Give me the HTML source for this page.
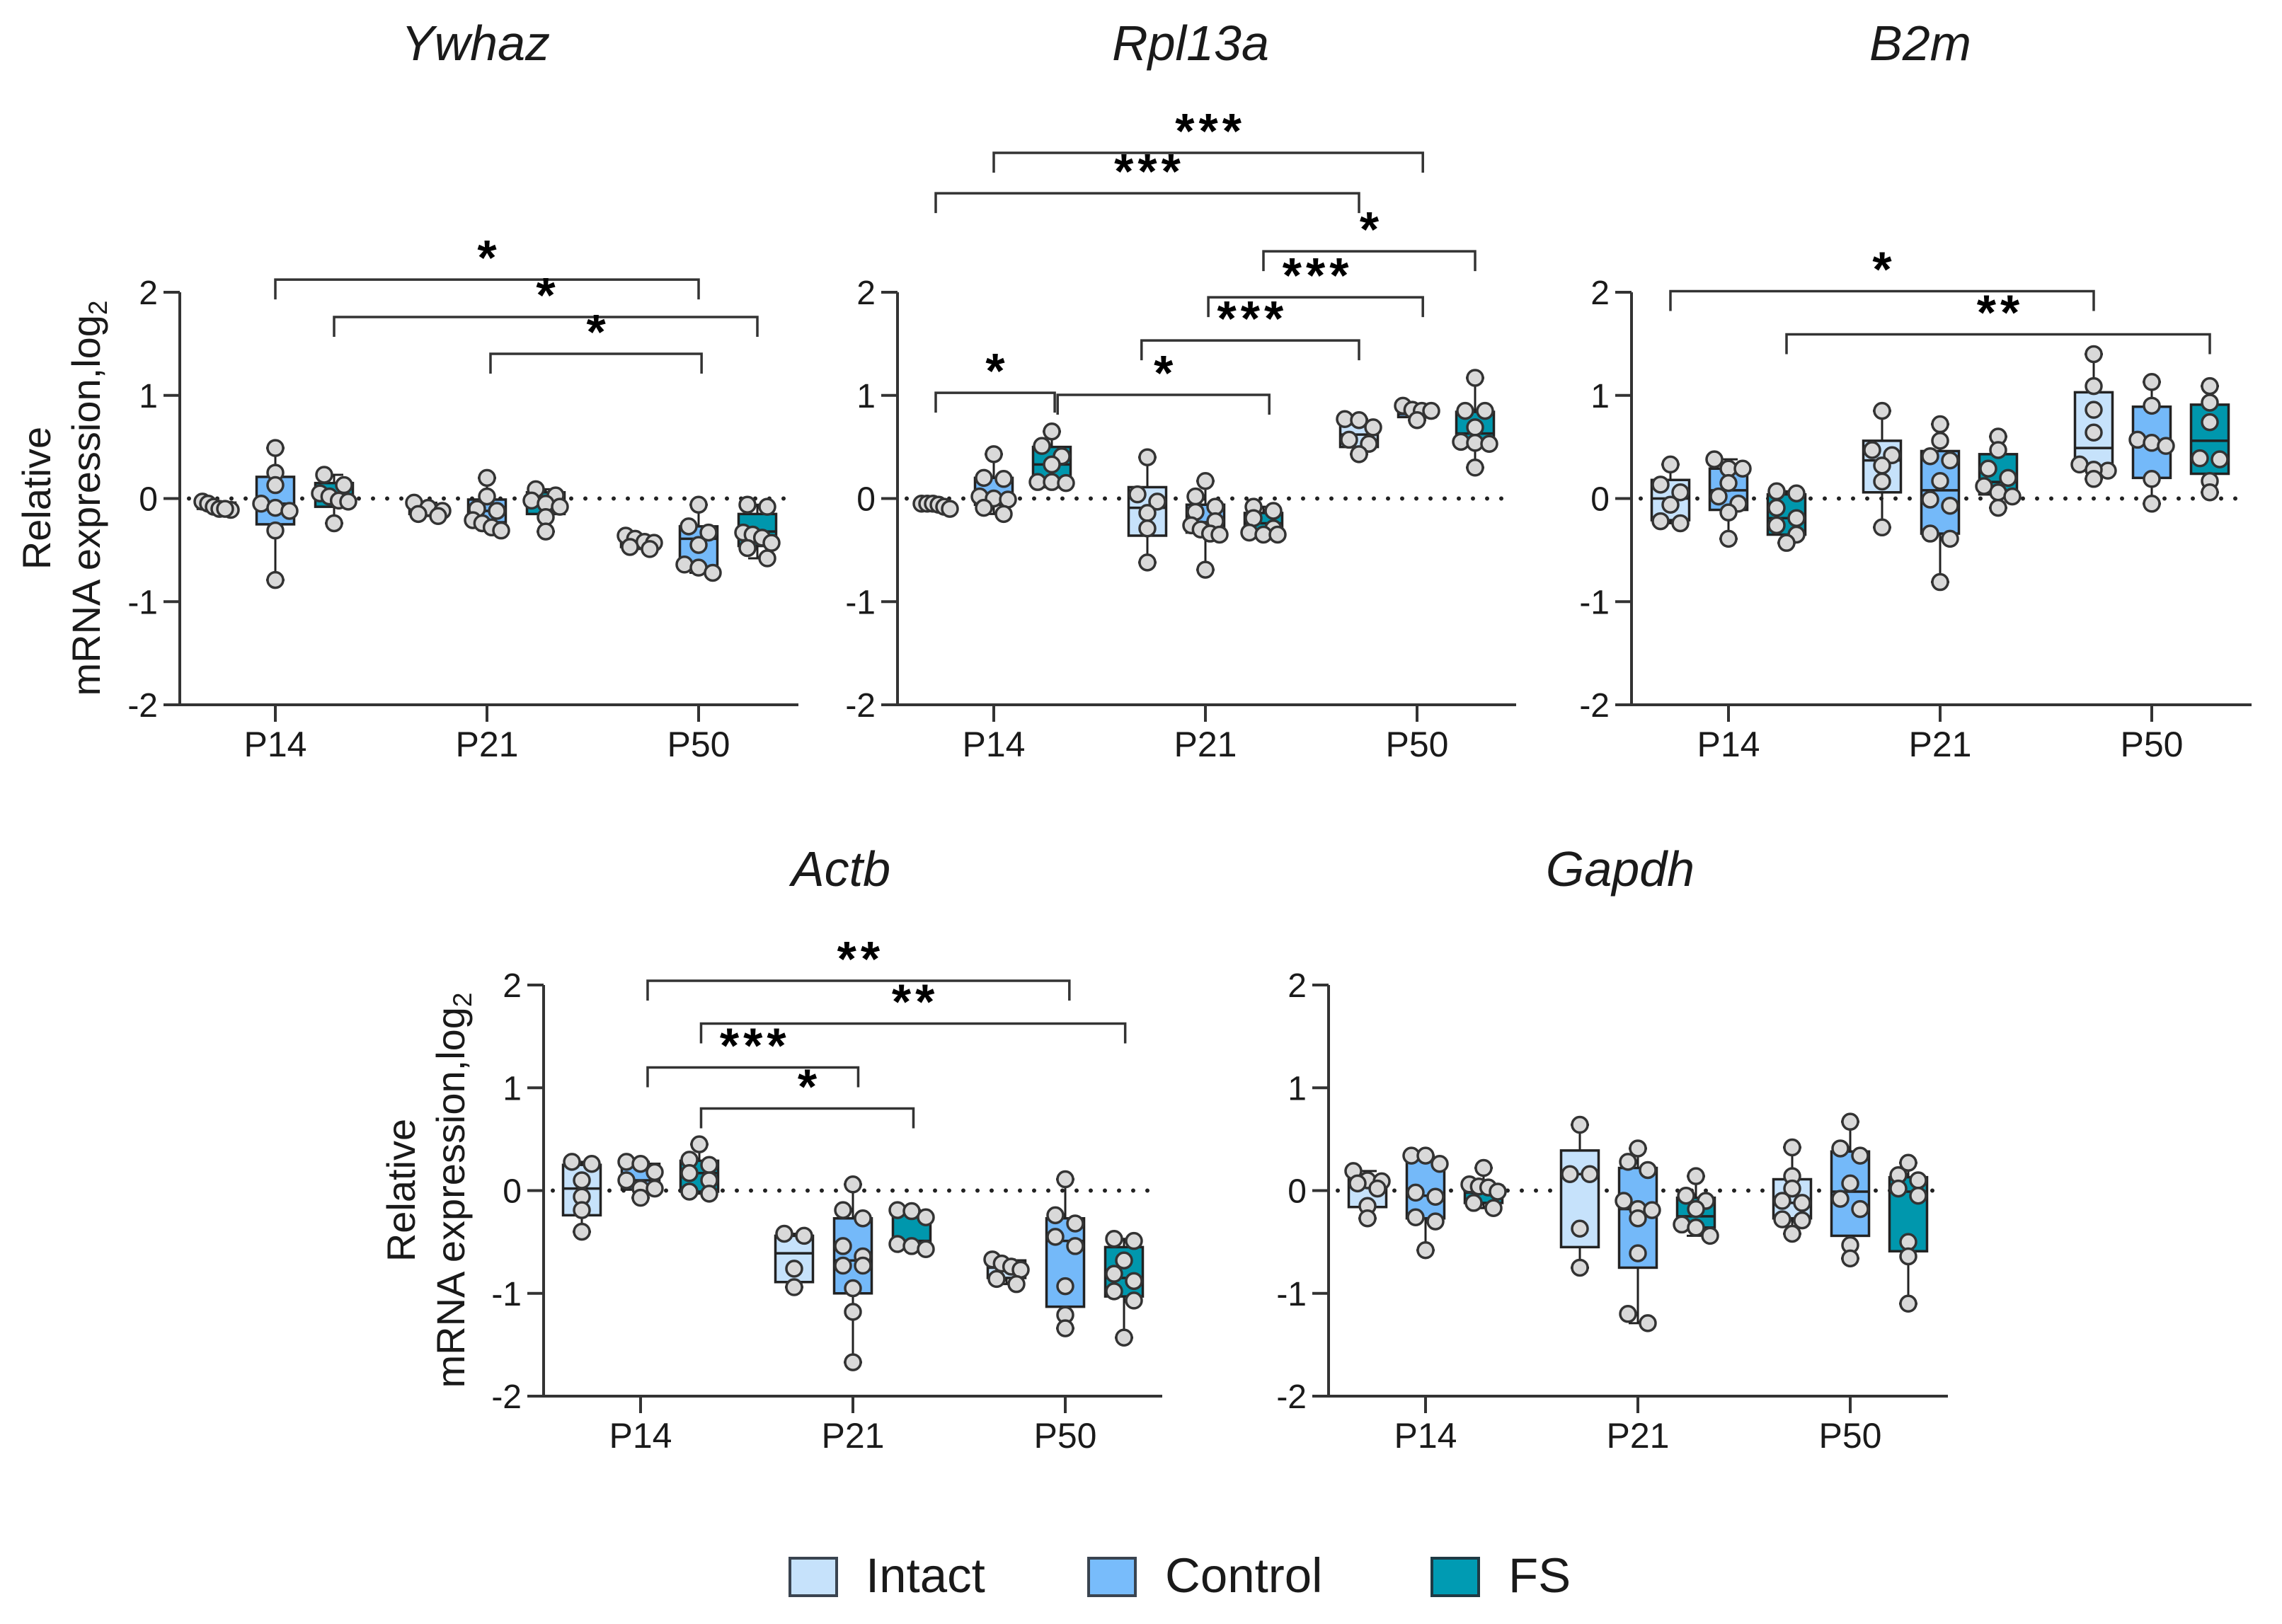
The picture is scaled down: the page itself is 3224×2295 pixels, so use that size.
<!DOCTYPE html>
<html lang="en">
<head>
<meta charset="utf-8">
<title>Relative mRNA expression of reference genes</title>
<style>
html,body{margin:0;padding:0;background:#fff;}
svg{display:block;}
text{font-family:"Liberation Sans",sans-serif;fill:#1a1a1a;}
.title{font-size:70px;font-style:italic;text-anchor:middle;}
.ylab{font-size:56px;text-anchor:middle;}
.leg{font-size:69px;}
</style>
</head>
<body>
<svg id="fig" width="3224" height="2295" viewBox="0 0 3224 2295" xmlns="http://www.w3.org/2000/svg">
  <rect x="0" y="0" width="3224" height="2295" fill="#fff"/>
  <text class="title" x="672" y="85">Ywhaz</text>
  <text class="title" x="1682" y="85">Rpl13a</text>
  <text class="title" x="2713" y="85">B2m</text>
  <text class="title" x="1188" y="1252">Actb</text>
  <text class="title" x="2289" y="1252">Gapdh</text>

  <text class="ylab" transform="translate(71,704) rotate(-90)">Relative</text>
  <text class="ylab" transform="translate(141,704) rotate(-90)">mRNA expression,log<tspan dy="10" font-size="37">2</tspan></text>
  <text class="ylab" transform="translate(586,1682) rotate(-90)">Relative</text>
  <text class="ylab" transform="translate(656,1682) rotate(-90)">mRNA expression,log<tspan dy="10" font-size="37">2</tspan></text>

  <g>
    <rect x="1116" y="2202" width="66" height="53" fill="#c6e2fb" stroke="#3a4450" stroke-width="4"/>
    <text class="leg" x="1223" y="2250">Intact</text>
    <rect x="1538" y="2202" width="66" height="53" fill="#78bcfb" stroke="#3a4450" stroke-width="4"/>
    <text class="leg" x="1646" y="2250">Control</text>
    <rect x="2023" y="2202" width="66" height="53" fill="#009bb3" stroke="#1f3a44" stroke-width="4"/>
    <text class="leg" x="2131" y="2250">FS</text>
  </g>
</svg>
<script>
// Shared axis labels
const yTickValues = [-2, -1, 0, 1, 2];
const ageLabels = ['P14', 'P21', 'P50'];
const groupNames = ['Intact', 'Control', 'FS'];
const groupFills = ['#c6e2fb', '#74b9f9', '#0097ad'];

// Each array below runs P14 Intact/Control/FS, P21 Intact/Control/FS, P50 Intact/Control/FS
const ywhazValues = [
  [-0.03,-0.05,-0.08,-0.1,-0.11,-0.1],
  [0.49,0.25,0.13,-0.05,-0.09,-0.12,-0.31,-0.79],
  [0.23,0.13,0.05,0.02,-0.02,-0.03,-0.24],
  [-0.04,-0.09,-0.12,-0.15,-0.17],
  [0.2,0.02,-0.1,-0.12,-0.21,-0.24,-0.28,-0.31],
  [0.09,0.03,-0.02,-0.05,-0.08,-0.18,-0.32],
  [-0.36,-0.39,-0.42,-0.43,-0.47,-0.49],
  [-0.06,-0.27,-0.33,-0.45,-0.64,-0.67,-0.72],
  [-0.06,-0.08,-0.33,-0.35,-0.38,-0.43,-0.48,-0.58]
];
const ywhazQ1 = [-0.1,-0.25,-0.08,-0.15,-0.23,-0.15,-0.47,-0.66,-0.46];
const ywhazMedian = [-0.07,-0.05,0.03,-0.11,-0.12,-0.06,-0.43,-0.39,-0.32];
const ywhazQ3 = [-0.04,0.21,0.15,-0.07,-0.01,0.06,-0.39,-0.27,-0.15];
const ywhazBrackets = [[1,7,2.123,'*'],[2,8,1.76,'*'],[4.06,7.05,1.403,'*']];

const rpl13aValues = [
  [-0.05,-0.05,-0.05,-0.06,-0.08,-0.1],
  [0.43,0.2,0.19,0.02,0,-0.01,-0.09,-0.15],
  [0.65,0.51,0.41,0.33,0.16,0.16,0.15],
  [0.4,0.04,-0.03,-0.14,-0.29,-0.62],
  [0.17,0.02,-0.08,-0.13,-0.22,-0.26,-0.3,-0.34,-0.35,-0.69],
  [-0.08,-0.12,-0.19,-0.29,-0.33,-0.35,-0.35],
  [0.77,0.76,0.69,0.57,0.53,0.43],
  [0.9,0.86,0.85,0.85,0.76],
  [1.17,0.85,0.85,0.69,0.55,0.54,0.53,0.3]
];
const rpl13aQ1 = [-0.08,-0.06,0.11,-0.36,-0.33,-0.32,0.5,0.79,0.54];
const rpl13aMedian = [-0.05,0.02,0.33,-0.09,-0.23,-0.24,0.62,0.82,0.63];
const rpl13aQ3 = [-0.05,0.2,0.5,0.11,-0.06,-0.14,0.72,0.85,0.84];
const rpl13aBrackets = [[1,7.1,3.352,'***'],[0,6,2.96,'***'],[5,8,2.397,'*'],[4.05,7.1,1.951,'***'],[2.9,6,1.533,'***'],[0,2.05,1.025,'*'],[2.1,5.1,1.005,'*']];

const b2mValues = [
  [0.33,0.135,0.06,-0.06,-0.22,-0.24],
  [0.38,0.29,0.29,0.15,0.02,-0.05,-0.135,-0.39],
  [0.07,0.05,-0.09,-0.19,-0.26,-0.35,-0.43],
  [0.85,0.47,0.42,0.32,0.165,-0.28],
  [0.72,0.56,0.41,0.37,0.17,-0.01,-0.07,-0.34,-0.39,-0.81],
  [0.6,0.47,0.29,0.2,0.12,0.06,0.02,-0.09],
  [1.4,1.09,0.86,0.64,0.33,0.27,0.28,0.19],
  [1.13,0.9,0.57,0.54,0.51,0.19,-0.05],
  [1.09,0.93,0.74,0.39,0.38,0.17,0.06]
];
const b2mQ1 = [-0.21,-0.11,-0.35,0.06,-0.34,0.04,0.29,0.2,0.24];
const b2mMedian = [0,0.08,-0.19,0.37,0.08,0.16,0.49,0.54,0.56];
const b2mQ3 = [0.18,0.29,0.04,0.56,0.46,0.43,1.03,0.89,0.91];
const b2mBrackets = [[0,6,2.01,'*'],[2,8,1.592,'**']];

const actbValues = [
  [0.28,0.26,0.1,-0.06,-0.19,-0.4],
  [0.28,0.26,0.18,0.1,0.02,0.02,-0.07],
  [0.45,0.3,0.25,0.17,0.1,-0.01,-0.03],
  [-0.42,-0.44,-0.76,-0.94],
  [0.06,-0.19,-0.27,-0.54,-0.64,-0.73,-0.73,-0.95,-1.18,-1.67],
  [-0.19,-0.2,-0.26,-0.52,-0.54,-0.57],
  [-0.67,-0.71,-0.74,-0.77,-0.86,-0.91],
  [0.11,-0.24,-0.32,-0.45,-0.54,-0.93,-1.21,-1.34],
  [-0.47,-0.49,-0.68,-0.81,-0.88,-0.98,-1.07,-1.43]
];
const actbQ1 = [-0.24,0.01,-0.01,-0.89,-1.0,-0.54,-0.85,-1.13,-1.03];
const actbMedian = [0.02,0.1,0.17,-0.61,-0.68,-0.49,-0.75,-0.49,-0.85];
const actbQ3 = [0.25,0.26,0.29,-0.44,-0.27,-0.23,-0.68,-0.27,-0.55];
const actbBrackets = [[1.12,7.07,2.041,'**'],[2.03,8.02,1.625,'**'],[1.12,4.09,1.198,'***'],[2.03,5.03,0.799,'*']];

const gapdhValues = [
  [0.19,0.1,0.09,0.07,0.02,-0.15,-0.27],
  [0.34,0.34,0.26,-0.02,-0.06,-0.26,-0.3,-0.58],
  [0.22,0.06,0.04,0.03,-0.01,-0.12,-0.17],
  [0.64,0.16,0.16,-0.37,-0.75],
  [0.41,0.28,0.2,-0.1,-0.18,-0.19,-0.27,-0.61,-1.2,-1.29],
  [0.14,-0.05,-0.1,-0.18,-0.33,-0.36,-0.44],
  [0.42,0.14,0.02,-0.1,-0.12,-0.28,-0.29,-0.42],
  [0.67,0.41,0.34,0.07,-0.08,-0.18,-0.53,-0.66],
  [0.27,0.15,0.1,0.02,-0.05,-0.5,-0.64,-1.1]
];
const gapdhQ1 = [-0.16,-0.27,-0.12,-0.55,-0.75,-0.36,-0.27,-0.44,-0.59];
const gapdhMedian = [0.06,-0.05,-0.02,0.16,-0.18,-0.25,-0.12,-0.01,-0.01];
const gapdhQ3 = [0.11,0.31,0.05,0.39,0.22,-0.07,0.11,0.38,0.13];
const gapdhBrackets = [];

const SVG_NS = 'http://www.w3.org/2000/svg';
const fig = document.getElementById('fig');

function make(parent, tag, attrs, text) {
  const el = document.createElementNS(SVG_NS, tag);
  for (const k in attrs) el.setAttribute(k, attrs[k]);
  if (text !== undefined) el.textContent = text;
  parent.appendChild(el);
  return el;
}

// Spread points that would overlap into symmetric side-by-side lanes
function swarmOffsets(values, y) {
  const order = values.map((v, i) => i).sort((a, b) => values[b] - values[a]);
  const offsets = new Array(values.length).fill(0);
  let i = 0;
  while (i < order.length) {
    let j = i + 1;
    while (j < order.length && y(values[order[j]]) - y(values[order[i]]) < 16) j++;
    const n = j - i;
    const spacing = n === 2 ? 28 : Math.min(21, 40 / Math.max(1, n - 1));
    for (let k = i; k < j; k++) offsets[order[k]] = (k - i - (n - 1) / 2) * spacing;
    i = j;
  }
  return offsets;
}

function drawPanel(cfg) {
  const panel = make(fig, 'g', {});
  
  

  const y = v => cfg.top + (2 - v) * (cfg.bottom - cfg.top) / 4;
  const boxX = p => {
    const i = Math.round(p);
    const group = Math.floor(i / 3);
    const member = i % 3;
    return cfg.center + group * cfg.groupStep + (member - 1) * cfg.boxStep + (p - i) * cfg.boxStep;
  };

  const zero = make(panel, 'line', {x1: cfg.axisX + 13, x2: cfg.end - 10, y1: y(0), y2: y(0), stroke: '#222', 'stroke-width': 6, 'stroke-linecap': 'round', 'stroke-dasharray': '0 20'});
  
  

  const yAxis = make(panel, 'line', {x1: cfg.axisX, x2: cfg.axisX, y1: cfg.top, y2: cfg.bottom, stroke: '#333', 'stroke-width': 4});
  
  

  const xAxis = make(panel, 'line', {x1: cfg.axisX - 23, x2: cfg.end, y1: cfg.bottom, y2: cfg.bottom, stroke: '#333', 'stroke-width': 4});
  
  

  yTickValues.forEach(t => {
    const tick = make(panel, 'line', {x1: cfg.axisX - 23, x2: cfg.axisX, y1: y(t), y2: y(t), stroke: '#333', 'stroke-width': 4});
    
    
    const label = make(panel, 'text', {x: cfg.axisX - 31, y: y(t) + 17, 'text-anchor': 'end', 'font-size': 48}, String(t));
    
    
  });

  ageLabels.forEach((name, g) => {
    const cx = cfg.center + g * cfg.groupStep;
    const tick = make(panel, 'line', {x1: cx, x2: cx, y1: cfg.bottom, y2: cfg.bottom + 24, stroke: '#333', 'stroke-width': 4});
    
    
    const label = make(panel, 'text', {x: cx, y: cfg.bottom + 73, 'text-anchor': 'middle', 'font-size': 50}, name);
    
    
  });

  cfg.values.forEach((vals, i) => {
    const cx = boxX(i);
    const fill = groupFills[i % 3];
    const lo = Math.min(...vals);
    const hi = Math.max(...vals);
    const halfW = cfg.boxW / 2;

    const whisker = make(panel, 'line', {x1: cx, x2: cx, y1: y(hi), y2: y(lo), stroke: '#222', 'stroke-width': 3});
    
    

    [lo, hi].forEach(v => {
      const cap = make(panel, 'line', {x1: cx - 13, x2: cx + 13, y1: y(v), y2: y(v), stroke: '#222', 'stroke-width': 3});
      
      
    });

    const box = make(panel, 'rect', {x: cx - halfW, y: y(cfg.q3[i]), width: cfg.boxW, height: y(cfg.q1[i]) - y(cfg.q3[i]), fill: fill, stroke: '#222', 'stroke-width': 3.5});
    
    

    const median = make(panel, 'line', {x1: cx - halfW, x2: cx + halfW, y1: y(cfg.median[i]), y2: y(cfg.median[i]), stroke: '#222', 'stroke-width': 3.5});
    
    

    const offsets = swarmOffsets(vals, y);
    vals.forEach((v, k) => {
      const dot = make(panel, 'circle', {cx: cx + offsets[k], cy: y(v), r: 11, fill: '#d9d9d9', stroke: '#333', 'stroke-width': 3.5});
      
      
    });
  });

  cfg.brackets.forEach(b => {
    const x1 = boxX(b[0]);
    const x2 = boxX(b[1]);
    const by = y(b[2]);
    const path = make(panel, 'path', {d: 'M' + x1 + ' ' + (by + 28) + 'V' + by + 'H' + x2 + 'V' + (by + 28), fill: 'none', stroke: '#333', 'stroke-width': 3.5});
    
    
    const star = make(panel, 'text', {x: (x1 + x2) / 2 + (b[3].length > 1 ? 3 : 0), y: by - 7, 'text-anchor': 'middle', 'font-size': 70, 'font-weight': 'bold', 'letter-spacing': b[3].length > 1 ? 6 : 0, style: 'fill:#000'}, b[3]);
    
    
  });
}

drawPanel({axisX: 254, top: 413, bottom: 996, end: 1128, center: 389, groupStep: 299, boxStep: 83, boxW: 53, values: ywhazValues, q1: ywhazQ1, median: ywhazMedian, q3: ywhazQ3, brackets: ywhazBrackets});
drawPanel({axisX: 1268, top: 413, bottom: 996, end: 2142, center: 1404, groupStep: 299, boxStep: 82, boxW: 53, values: rpl13aValues, q1: rpl13aQ1, median: rpl13aMedian, q3: rpl13aQ3, brackets: rpl13aBrackets});
drawPanel({axisX: 2305, top: 413, bottom: 996, end: 3181, center: 2442, groupStep: 299, boxStep: 82, boxW: 53, values: b2mValues, q1: b2mQ1, median: b2mMedian, q3: b2mQ3, brackets: b2mBrackets});
drawPanel({axisX: 768, top: 1392, bottom: 1973, end: 1642, center: 905, groupStep: 300, boxStep: 83, boxW: 53, values: actbValues, q1: actbQ1, median: actbMedian, q3: actbQ3, brackets: actbBrackets});
drawPanel({axisX: 1877, top: 1392, bottom: 1973, end: 2752, center: 2014, groupStep: 300, boxStep: 82, boxW: 53, values: gapdhValues, q1: gapdhQ1, median: gapdhMedian, q3: gapdhQ3, brackets: gapdhBrackets});
</script>
</body>
</html>
